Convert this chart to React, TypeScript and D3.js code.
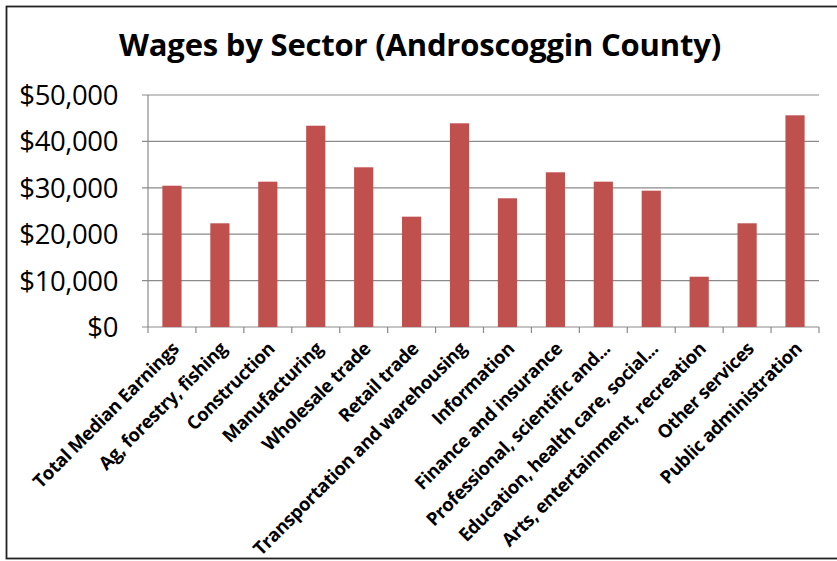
import React from "react";
import * as d3 from "d3";

const categories = [
  "Total Median Earnings",
  "Ag, forestry, fishing",
  "Construction",
  "Manufacturing",
  "Wholesale trade",
  "Retail trade",
  "Transportation and warehousing",
  "Information",
  "Finance and insurance",
  "Professional, scientific and...",
  "Education, health care, social...",
  "Arts, entertainment, recreation",
  "Other services",
  "Public administration",
];
const wages = [30450, 22350, 31320, 43380, 34420, 23780, 43900, 27740, 33340, 31320, 29380, 10840, 22350, 45620];
const yTicks = [0, 10000, 20000, 30000, 40000, 50000];
const title = "Wages by Sector (Androscoggin County)";

const W = 837;
const H = 561;
const plot = { left: 148, right: 819, top: 95, bottom: 327 };

export default function App() {
  const x = d3.scaleBand<string>().domain(categories).range([plot.left, plot.right]).paddingInner(0.6).paddingOuter(0.3);
  const band = d3.scaleBand<string>().domain(categories).range([plot.left, plot.right]);
  const y = d3.scaleLinear().domain([0, 50000]).range([plot.bottom, plot.top]);
  const fmt = (v: number) => "$" + d3.format(",")(v);
  const gray = "#8a8a8a";
  return (
    <svg width={W} height={H} style={{ position: "absolute", left: 0, top: 0 }} fontFamily="'Open Sans', sans-serif">
      <rect x={0} y={0} width={W} height={H} fill="#fff" />
      <rect x={6.5} y={6.5} width={840} height={552} fill="none" stroke="#222" strokeWidth={1.8} />
      <text x={420} y={56} textAnchor="middle" fontWeight="bold" fontSize={31} fill="#000" letterSpacing={-0.2}>
        {title}
      </text>
      {yTicks.map((t) => (
        <g key={t}>
          <line x1={plot.left - 6} x2={plot.right} y1={y(t)} y2={y(t)} stroke={gray} strokeWidth={1.2} />
          <text x={118} y={y(t)} dy="0.36em" textAnchor="end" fontSize={27.5} fill="#000" letterSpacing={-0.4}>
            {fmt(t)}
          </text>
        </g>
      ))}
      <line x1={plot.left} x2={plot.left} y1={plot.top} y2={plot.bottom} stroke={gray} strokeWidth={1.2} />
      {categories.map((c, i) => (
        <line key={"t" + i} x1={band(c)!} x2={band(c)!} y1={plot.bottom} y2={plot.bottom + 6} stroke={gray} strokeWidth={1.2} />
      ))}
      <line x1={plot.right} x2={plot.right} y1={plot.bottom} y2={plot.bottom + 6} stroke={gray} strokeWidth={1.2} />
      {categories.map((c, i) => (
        <rect key={c} x={x(c)!} y={y(wages[i])} width={x.bandwidth()} height={plot.bottom - y(wages[i])} fill="#C0504D" />
      ))}
      {categories.map((c) => {
        const cx = band(c)! + band.bandwidth() / 2 + 8;
        const cy = plot.bottom + 23;
        return (
          <text key={"l" + c} x={cx} y={cy} transform={`rotate(-45 ${cx} ${cy})`} textAnchor="end" fontWeight="bold" fontSize={18.5} fill="#000" letterSpacing={-0.4}>
            {c}
          </text>
        );
      })}
    </svg>
  );
}
